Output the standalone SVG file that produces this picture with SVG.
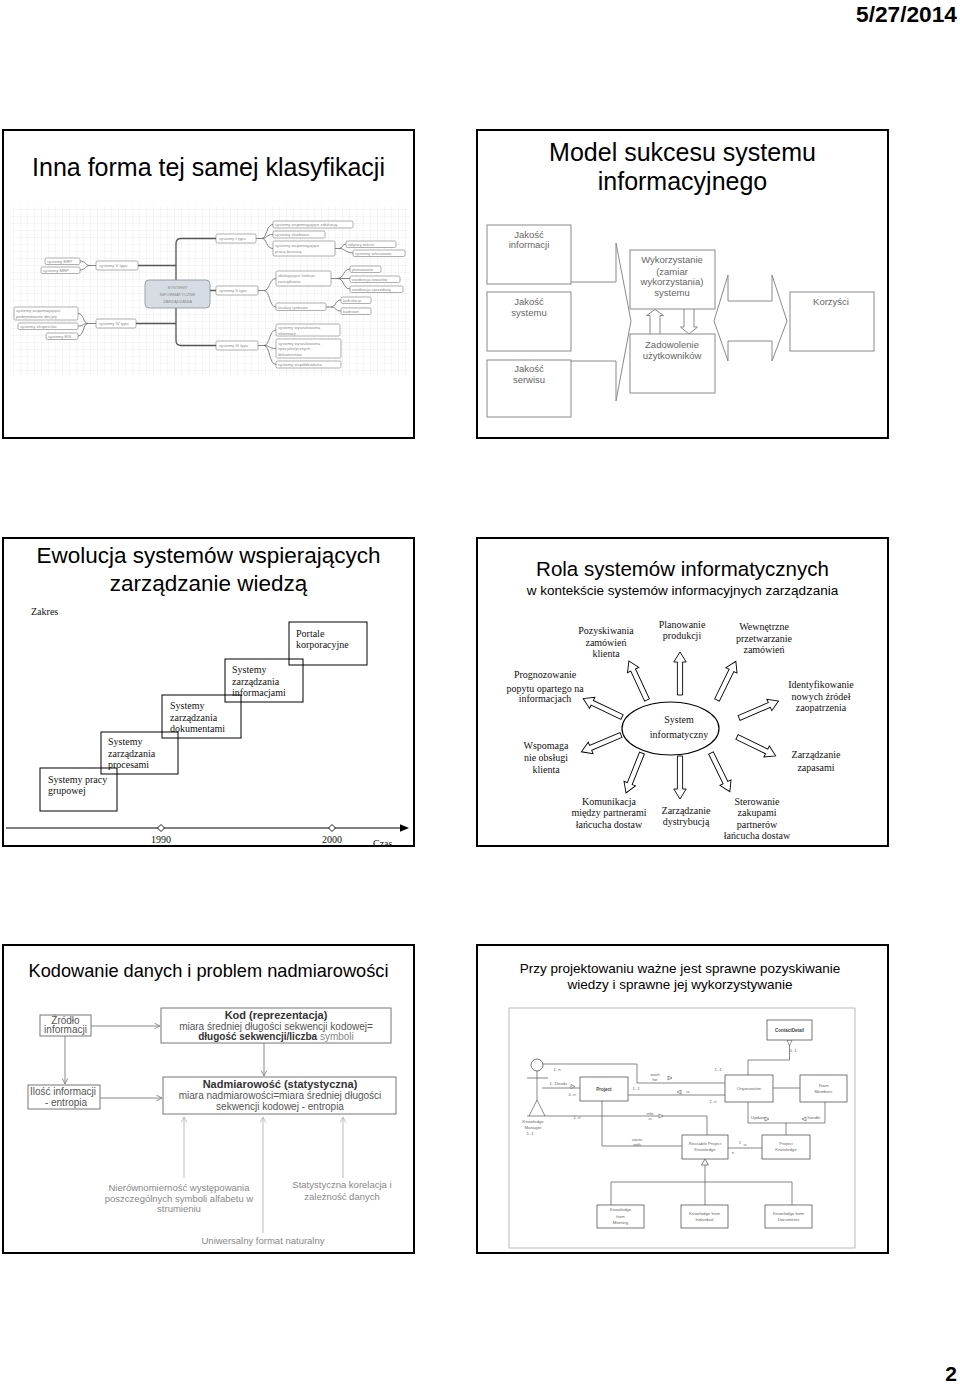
<svg xmlns="http://www.w3.org/2000/svg" width="960" height="1384" viewBox="0 0 960 1384">
<defs>
<style>
.frame{fill:#fff;stroke:#000;stroke-width:2}
.sans{font-family:"Liberation Sans",Arial,sans-serif}
.serif{font-family:"Liberation Serif","Times New Roman",serif}
.ttl{font-family:"Liberation Sans",Arial,sans-serif;fill:#000;text-anchor:middle}
.mm{fill:#fff;stroke:#7a7a7a;stroke-width:0.6}
.mmt{font-family:"Liberation Sans",Arial,sans-serif;font-size:4.2px;fill:#8a8a8a}
.mml{fill:none;stroke:#666;stroke-width:0.8}
.mml1{fill:none;stroke:#555;stroke-width:1.3}
.s2{fill:#fff;stroke:#8a8a8a;stroke-width:1}
.s2l{fill:none;stroke:#8a8a8a;stroke-width:1}
.s2t{font-family:"Liberation Sans",Arial,sans-serif;font-size:9.5px;fill:#666;text-anchor:middle}
.s3b{fill:none;stroke:#000;stroke-width:1}
.s3t{font-family:"Liberation Serif","Times New Roman",serif;font-size:10px;fill:#111}
.s4t{font-family:"Liberation Serif","Times New Roman",serif;font-size:10px;fill:#111;text-anchor:middle}
.s4a{fill:#fff;stroke:#000;stroke-width:0.9}
.s5b{fill:#fff;stroke:#777;stroke-width:1}
.s5l{fill:none;stroke:#888;stroke-width:1}
.s5lb{fill:none;stroke:#bbb;stroke-width:1}
.s5t{font-family:"Liberation Sans",Arial,sans-serif;font-size:10px;fill:#555;text-anchor:middle}
.s5h{font-family:"Liberation Sans",Arial,sans-serif;font-size:11px;font-weight:bold;fill:#333;text-anchor:middle}
.s5s{font-family:"Liberation Sans",Arial,sans-serif;font-size:9.5px;fill:#888;text-anchor:middle}
.u{fill:#fff;stroke:#555;stroke-width:0.8}
.ul{fill:none;stroke:#555;stroke-width:0.7}
.ut{font-family:"Liberation Sans",Arial,sans-serif;font-size:4.3px;fill:#666;text-anchor:middle}
.ub{font-family:"Liberation Sans",Arial,sans-serif;font-size:4.5px;font-weight:bold;fill:#444;text-anchor:middle}
</style>
<pattern id="grid" width="7" height="7" patternUnits="userSpaceOnUse"><path d="M7,0 V7 H0" fill="none" stroke="#e3e3e3" stroke-width="0.6"/></pattern>
<marker id="oa" viewBox="0 0 10 10" refX="9" refY="5" markerWidth="7" markerHeight="7" orient="auto"><path d="M1,1 L9,5 L1,9" fill="none" stroke="#888" stroke-width="1.3"/></marker>
<marker id="ob" viewBox="0 0 10 10" refX="9" refY="5" markerWidth="7" markerHeight="7" orient="auto"><path d="M1,1 L9,5 L1,9" fill="none" stroke="#bbb" stroke-width="1.3"/></marker>
<path id="arw" d="M0,-2.6 H33 V-6.2 L43,0 L33,6.2 V2.6 H0 Z"/>
</defs>
<rect x="0" y="0" width="960" height="1384" fill="#fff"/>

<text class="sans" x="957" y="22" font-size="22" font-weight="bold" text-anchor="end" textLength="101" lengthAdjust="spacingAndGlyphs">5/27/2014</text>

<!-- Slide 1 -->
<g id="slide1">
<rect class="frame" x="3" y="130" width="411" height="308"/>
<text class="ttl" x="208.5" y="176" font-size="25">Inna forma tej samej klasyfikacji</text>
<rect x="10" y="206" width="400" height="170" fill="url(#grid)"/>
<g id="s1-connectors">
<path class="mml1" d="M216,238.5 H181 Q176,238.5 176,243.5 V340.5 Q176,345.5 181,345.5 H216 M176,290.5 H216 M138,265.5 H176 M136,323.5 H176"/>
<path class="mml" d="M256,238.5 H262 C267,238.5 266,224.5 273,224.5 M262,238.5 C267,238.5 266,234.5 273,234.5 M262,238.5 C267,238.5 266,248.5 273,248.5"/>
<path class="mml" d="M335,248.5 H339 C343,248.5 342,244 346,244 M339,248.5 C345,248.5 346,253 353,253"/>
<path class="mml" d="M258,290.5 H264 C270,290.5 269,278.5 276,278.5 M264,290.5 C270,290.5 269,307 276,307"/>
<path class="mml" d="M331,278.5 H338 C344,278.5 343,269 350,269 M338,278.5 H350 M338,278.5 C344,278.5 343,289 350,289"/>
<path class="mml" d="M326,307 H331 C336,307 335,300 341,300 M331,307 C336,307 335,311 341,311"/>
<path class="mml" d="M258,345.5 H264 C270,345.5 269,330 276,330 M264,345.5 C270,345.5 269,348.5 276,348.5 M264,345.5 C270,345.5 269,364.5 276,364.5"/>
<path class="mml" d="M96,265.5 H90 C85,265.5 86,261 80,261 M90,265.5 C85,265.5 86,270 80,270"/>
<path class="mml" d="M96,323.5 H88 C83,323.5 84,313.5 78,313.5 M88,323.5 C83,323.5 84,326 78,326 M88,323.5 C83,323.5 84,336 78,336"/>
</g>
<g id="mm-center"><rect x="145" y="280" width="65" height="28" rx="4" fill="#d6dce3" stroke="#8a9099" stroke-width="0.8"/>
<text class="mmt" x="177.5" y="289" font-size="5" text-anchor="middle">SYSTEMY</text>
<text class="mmt" x="177.5" y="296" font-size="5" text-anchor="middle">INFORMATYCZNE</text>
<text class="mmt" x="177.5" y="303" font-size="5" text-anchor="middle">ZARZĄDZANIA</text></g>
<g id="mm-t1"><rect class="mm" x="216" y="234" width="40" height="9" rx="1.5"/><text class="mmt" x="219" y="240">systemy I typu</text></g>
<g id="mm-t2"><rect class="mm" x="216" y="286" width="42" height="9" rx="1.5"/><text class="mmt" x="219" y="292">systemy II typu</text></g>
<g id="mm-t3"><rect class="mm" x="216" y="341" width="42" height="9" rx="1.5"/><text class="mmt" x="219" y="347">systemy III typu</text></g>
<g id="mm-t5"><rect class="mm" x="96" y="261" width="42" height="9" rx="1.5"/><text class="mmt" x="99" y="267">systemy V typu</text></g>
<g id="mm-t4"><rect class="mm" x="96" y="319" width="40" height="9" rx="1.5"/><text class="mmt" x="99" y="325">systemy IV typu</text></g>
<g id="mm-c1a"><rect class="mm" x="273" y="221" width="80" height="7" rx="1.5"/><text class="mmt" x="275" y="226">systemy wspomagające edukację</text></g>
<g id="mm-c1b"><rect class="mm" x="273" y="231" width="52" height="7" rx="1.5"/><text class="mmt" x="275" y="236">systemy służbowe</text></g>
<g id="mm-c1c"><rect class="mm" x="273" y="241" width="62" height="15" rx="1.5"/><text class="mmt" x="275" y="246.5">systemy wspomagające</text><text class="mmt" x="275" y="252.5">pracę biurową</text></g>
<g id="mm-g1"><rect class="mm" x="346" y="241" width="50" height="6.5" rx="1.5"/><text class="mmt" x="348" y="245.5">edytory tekstu</text></g>
<g id="mm-g2"><rect class="mm" x="353" y="250" width="52" height="6.5" rx="1.5"/><text class="mmt" x="355" y="254.5">systemy arkuszowe</text></g>
<g id="mm-c2a"><rect class="mm" x="276" y="271" width="55" height="15" rx="1.5"/><text class="mmt" x="278" y="276.5">obsługujące funkcje</text><text class="mmt" x="278" y="282.5">zarządzania</text></g>
<g id="mm-c2b"><rect class="mm" x="276" y="303" width="50" height="7.5" rx="1.5"/><text class="mmt" x="278" y="308.5">analizy rynkowe</text></g>
<g id="mm-g3"><rect class="mm" x="350" y="266" width="31" height="6.5" rx="1.5"/><text class="mmt" x="352" y="270.5">planowanie</text></g>
<g id="mm-g4"><rect class="mm" x="350" y="276" width="50" height="6.5" rx="1.5"/><text class="mmt" x="352" y="280.5">ewidencja towarów</text></g>
<g id="mm-g5"><rect class="mm" x="350" y="286" width="53" height="6.5" rx="1.5"/><text class="mmt" x="352" y="290.5">ewidencja sprzedaży</text></g>
<g id="mm-g6"><rect class="mm" x="341" y="297" width="30" height="6.5" rx="1.5"/><text class="mmt" x="343" y="301.5">kalkulacje</text></g>
<g id="mm-g7"><rect class="mm" x="341" y="308" width="30" height="6.5" rx="1.5"/><text class="mmt" x="343" y="312.5">kadrowe</text></g>
<g id="mm-c3a"><rect class="mm" x="276" y="324" width="64" height="12" rx="1.5"/><text class="mmt" x="278" y="329">systemy wyszukiwania</text><text class="mmt" x="278" y="334.5">informacji</text></g>
<g id="mm-c3b"><rect class="mm" x="276" y="339" width="65" height="19" rx="1.5"/><text class="mmt" x="278" y="344.5">systemy wyszukiwania</text><text class="mmt" x="278" y="350">specjalistycznych</text><text class="mmt" x="278" y="355.5">dokumentów</text></g>
<g id="mm-c3c"><rect class="mm" x="276" y="361" width="65" height="7" rx="1.5"/><text class="mmt" x="278" y="366">systemy współdziałania</text></g>
<g id="mm-erp"><rect class="mm" x="45" y="258" width="35" height="6.5" rx="1.5"/><text class="mmt" x="47" y="262.5">systemy ERP</text></g>
<g id="mm-mrp"><rect class="mm" x="41" y="267" width="39" height="6.5" rx="1.5"/><text class="mmt" x="43" y="271.5">systemy MRP</text></g>
<g id="mm-dss"><rect class="mm" x="14" y="307" width="64" height="13" rx="1.5"/><text class="mmt" x="16" y="312">systemy wspomagające</text><text class="mmt" x="16" y="318">podejmowanie decyzji</text></g>
<g id="mm-es"><rect class="mm" x="18" y="323" width="60" height="6.5" rx="1.5"/><text class="mmt" x="20" y="327.5">systemy eksperckie</text></g>
<g id="mm-eis"><rect class="mm" x="46" y="333" width="32" height="6.5" rx="1.5"/><text class="mmt" x="48" y="337.5">systemy EIS</text></g>
</g>

<!-- Slide 2 -->
<g id="slide2">
<rect class="frame" x="477" y="130" width="411" height="308"/>
<text class="ttl" x="682.5" y="161" font-size="25">Model sukcesu systemu</text>
<text class="ttl" x="682.5" y="190" font-size="25">informacyjnego</text>
<g id="s2-connectors">
<path class="s2l" d="M571,282 H616 V243 L631,321 L616,401 V361 H571"/>
<path class="s2l" d="M650,334 V315.5 H646.5 L655,309.5 L663.5,315.5 H660 V334"/>
<path class="s2l" d="M684,309 V327 H680.5 L689,334 L697.5,327 H694 V309"/>
<path class="s2l" d="M714,321 L728,275 V301 H772 V275 L787,321 L772,361 V341 H728 V361 Z"/>
</g>
<g id="jakosc-inf"><rect class="s2" x="487" y="225" width="84" height="59"/><text class="s2t" x="529" y="237.5">Jakość</text><text class="s2t" x="529" y="248">informacji</text></g>
<g id="jakosc-sys"><rect class="s2" x="487" y="292" width="84" height="59"/><text class="s2t" x="529" y="305">Jakość</text><text class="s2t" x="529" y="315.5">systemu</text></g>
<g id="jakosc-ser"><rect class="s2" x="487" y="360" width="84" height="57"/><text class="s2t" x="529" y="372">Jakość</text><text class="s2t" x="529" y="382.5">serwisu</text></g>
<g id="wykorzystanie"><rect class="s2" x="630" y="250" width="85" height="59"/><text class="s2t" x="672" y="263">Wykorzystanie</text><text class="s2t" x="672" y="274.5">(zamiar</text><text class="s2t" x="672" y="285">wykorzystania)</text><text class="s2t" x="672" y="295.5">systemu</text></g>
<g id="zadowolenie"><rect class="s2" x="630" y="334" width="85" height="59"/><text class="s2t" x="672" y="348">Zadowolenie</text><text class="s2t" x="672" y="359">użytkowników</text></g>
<g id="korzysci"><rect class="s2" x="790" y="292" width="84" height="59"/><text class="s2t" x="831" y="305">Korzyści</text></g>
</g>

<!-- Slide 3 -->
<g id="slide3">
<rect class="frame" x="3" y="538" width="411" height="308"/>
<text class="ttl" x="208.5" y="563" font-size="22.5">Ewolucja systemów wspierających</text>
<text class="ttl" x="208.5" y="591" font-size="22.5">zarządzanie wiedzą</text>
<text class="s3t" x="31" y="615">Zakres</text>
<g id="s3-connectors">
<path d="M6,828 H401" stroke="#000" stroke-width="1.2" fill="none"/>
<polygon points="400,824.3 409,828 400,831.7" fill="#000"/>
<polygon points="161,824.5 164.5,828 161,831.5 157.5,828" fill="#fff" stroke="#000" stroke-width="0.9"/>
<polygon points="332,824.5 335.5,828 332,831.5 328.5,828" fill="#fff" stroke="#000" stroke-width="0.9"/>
</g>
<text class="s3t" x="161" y="843" text-anchor="middle">1990</text>
<text class="s3t" x="332" y="843" text-anchor="middle">2000</text>
<text class="s3t" x="373" y="847">Czas</text>
<g id="box-portale"><rect class="s3b" x="289" y="622" width="78" height="43"/><text class="s3t" x="296" y="637">Portale</text><text class="s3t" x="296" y="648">korporacyjne</text></g>
<g id="box-informacje"><rect class="s3b" x="225" y="659" width="78" height="43"/><text class="s3t" x="232" y="673">Systemy</text><text class="s3t" x="232" y="684.5">zarządzania</text><text class="s3t" x="232" y="695.5">informacjami</text></g>
<g id="box-dokumenty"><rect class="s3b" x="162" y="695" width="79" height="43"/><text class="s3t" x="170" y="709">Systemy</text><text class="s3t" x="170" y="720.5">zarządzania</text><text class="s3t" x="170" y="732">dokumentami</text></g>
<g id="box-procesy"><rect class="s3b" x="101" y="732" width="77" height="42"/><text class="s3t" x="108" y="745">Systemy</text><text class="s3t" x="108" y="756.5">zarządzania</text><text class="s3t" x="108" y="768">procesami</text></g>
<g id="box-grupowe"><rect class="s3b" x="40" y="768" width="77" height="43"/><text class="s3t" x="48" y="782.5">Systemy pracy</text><text class="s3t" x="48" y="794">grupowej</text></g>
</g>

<!-- Slide 4 -->
<g id="slide4">
<rect class="frame" x="477" y="538" width="411" height="308"/>
<text class="ttl" x="682.5" y="576" font-size="20.5">Rola systemów informatycznych</text>
<text class="ttl" x="682.5" y="595" font-size="13.5">w kontekście systemów informacyjnych zarządzania</text>
<g id="s4-connectors">
<use href="#arw" class="s4a" transform="translate(680,695) rotate(-90)"/>
<use href="#arw" class="s4a" transform="translate(647,700) rotate(-114.9)"/>
<use href="#arw" class="s4a" transform="translate(717,700) rotate(-64)"/>
<use href="#arw" class="s4a" transform="translate(622,717) rotate(-154.6)"/>
<use href="#arw" class="s4a" transform="translate(739,718) rotate(-23.2)"/>
<use href="#arw" class="s4a" transform="translate(621,735) rotate(157)"/>
<use href="#arw" class="s4a" transform="translate(737,737) rotate(26)"/>
<use href="#arw" class="s4a" transform="translate(642,753) rotate(111.8)"/>
<use href="#arw" class="s4a" transform="translate(680,756) rotate(90)"/>
<use href="#arw" class="s4a" transform="translate(711,753) rotate(64)"/>
</g>
<g id="system-inf"><ellipse cx="670.5" cy="728.5" rx="48.5" ry="26.5" fill="#fff" stroke="#000" stroke-width="1.2"/>
<text class="s4t" x="679" y="722.5" font-size="12">System</text><text class="s4t" x="679" y="737.5" font-size="12">informatyczny</text></g>
<g id="l-pozysk"><text class="s4t" x="606" y="633.5">Pozyskiwania</text><text class="s4t" x="606" y="645.5">zamówień</text><text class="s4t" x="606" y="656.5">klienta</text></g>
<g id="l-plan"><text class="s4t" x="682" y="627.5">Planowanie</text><text class="s4t" x="682" y="638.5">produkcji</text></g>
<g id="l-wewn"><text class="s4t" x="764" y="630">Wewnętrzne</text><text class="s4t" x="764" y="641.5">przetwarzanie</text><text class="s4t" x="764" y="653">zamówień</text></g>
<g id="l-progn"><text class="s4t" x="545" y="678">Prognozowanie</text><text class="s4t" x="545" y="691.5">popytu opartego na</text><text class="s4t" x="545" y="702">informacjach</text></g>
<g id="l-ident"><text class="s4t" x="821" y="688">Identyfikowanie</text><text class="s4t" x="821" y="700">nowych źródeł</text><text class="s4t" x="821" y="711">zaopatrzenia</text></g>
<g id="l-wspom"><text class="s4t" x="546" y="749">Wspomaga</text><text class="s4t" x="546" y="761">nie obsługi</text><text class="s4t" x="546" y="773">klienta</text></g>
<g id="l-zapasy"><text class="s4t" x="816" y="758">Zarządzanie</text><text class="s4t" x="816" y="770.5">zapasami</text></g>
<g id="l-komun"><text class="s4t" x="609" y="805">Komunikacja</text><text class="s4t" x="609" y="816">między partnerami</text><text class="s4t" x="609" y="827.5">łańcucha dostaw</text></g>
<g id="l-dystr"><text class="s4t" x="686" y="814">Zarządzanie</text><text class="s4t" x="686" y="825">dystrybucją</text></g>
<g id="l-sterow"><text class="s4t" x="757" y="805">Sterowanie</text><text class="s4t" x="757" y="815.5">zakupami</text><text class="s4t" x="757" y="827.5">partnerów</text><text class="s4t" x="757" y="839">łańcucha dostaw</text></g>
</g>

<!-- Slide 5 -->
<g id="slide5">
<rect class="frame" x="3" y="945" width="411" height="308"/>
<text class="ttl" x="208.5" y="977" font-size="18.2">Kodowanie danych i problem nadmiarowości</text>
<g id="s5-connectors">
<path class="s5l" d="M91,1026 H160" marker-end="url(#oa)"/>
<path class="s5l" d="M65,1036 V1084" marker-end="url(#oa)"/>
<path class="s5l" d="M100,1098 H162" marker-end="url(#oa)"/>
<path class="s5l" d="M264,1043 V1076" marker-end="url(#oa)"/>
<path class="s5lb" d="M184,1178 V1117" marker-end="url(#ob)"/>
<path class="s5lb" d="M263,1233 V1117" marker-end="url(#ob)"/>
<path class="s5lb" d="M343,1178 V1117" marker-end="url(#ob)"/>
</g>
<g id="zrodlo"><rect class="s5b" x="40" y="1015" width="51" height="21"/><text class="s5t" x="65.5" y="1024" font-size="9">Źródło</text><text class="s5t" x="65.5" y="1033" font-size="9">informacji</text></g>
<g id="ilosc"><rect class="s5b" x="28" y="1085" width="72" height="24"/><text class="s5t" x="63" y="1095">Ilość informacji</text><text class="s5t" x="66" y="1105.5">- entropia</text></g>
<g id="kod"><rect class="s5b" x="161" y="1008" width="230" height="35"/><text class="s5h" x="276" y="1018.5">Kod (reprezentacja)</text><text class="s5t" x="276" y="1029.5">miara średniej długości sekwencji kodowej=</text><text class="s5t" x="276" y="1039.5"><tspan fill="#333" font-weight="bold">długość sekwencji/liczba</tspan> <tspan fill="#888">symboli</tspan></text></g>
<g id="nadmiar"><rect class="s5b" x="163" y="1077" width="233" height="37"/><text class="s5h" x="280" y="1087.5">Nadmiarowość (statystyczna)</text><text class="s5t" x="280" y="1099">miara nadmiarowości=miara średniej długości</text><text class="s5t" x="280" y="1110" fill="#888">sekwencji kodowej - entropia</text></g>
<g id="l-nierown"><text class="s5s" x="179" y="1191" fill="#444">Nierównomierność występowania</text><text class="s5s" x="179" y="1201.5">poszczególnych symboli alfabetu w</text><text class="s5s" x="179" y="1212">strumieniu</text></g>
<g id="l-korel"><text class="s5s" x="342" y="1188">Statystyczna korelacja i</text><text class="s5s" x="342" y="1200" fill="#555">zależność danych</text></g>
<g id="l-uniw"><text class="s5s" x="263" y="1244" font-size="9">Uniwersalny format naturalny</text></g>
</g>

<!-- Slide 6 -->
<g id="slide6">
<rect class="frame" x="477" y="945" width="411" height="308"/>
<text class="ttl" x="680" y="973" font-size="13.5">Przy projektowaniu ważne jest sprawne pozyskiwanie</text>
<text class="ttl" x="680" y="989" font-size="13.5">wiedzy i sprawne jej wykorzystywanie</text>
<rect x="509" y="1008" width="346" height="240" fill="#fff" stroke="#bbb" stroke-width="1"/>
<g id="s6-connectors">
<path class="ul" d="M542,1064 H637 V1083 H725"/>
<path class="ul" d="M542,1088 H580"/>
<path class="ul" d="M628,1095 H725"/>
<path class="ul" d="M748,1075 V1060 H789.5 V1040"/>
<path class="ul" d="M773,1088 H800"/>
<path class="ul" d="M527,1116 H707 V1135"/>
<path class="ul" d="M602,1101 V1146 H682"/>
<path class="ul" d="M728,1148 H762"/>
<path class="ul" d="M748,1102 V1123 H825 V1102 M786,1123 V1135"/>
<path class="ul" d="M705,1165 V1182 M611,1182 H792 M611,1182 V1205 M705,1182 V1205 M792,1182 V1205"/>
<polygon points="705,1159 701.5,1165 708.5,1165" fill="#fff" stroke="#555" stroke-width="0.7"/>
<polygon points="787,1040 792,1040 789.5,1046" fill="#fff" stroke="#555" stroke-width="0.6"/>
<polygon points="668,1076 672,1078 668,1080" fill="#fff" stroke="#555" stroke-width="0.6"/>
<polygon points="571,1084.5 575,1086.5 571,1088.5" fill="#fff" stroke="#555" stroke-width="0.6"/>
<polygon points="659,1114 663,1116 659,1118" fill="#fff" stroke="#555" stroke-width="0.6"/>
<polygon points="681,1090 677,1092 681,1094" fill="#fff" stroke="#555" stroke-width="0.6"/>
<polygon points="765,1117 769,1119 765,1121" fill="#fff" stroke="#555" stroke-width="0.6"/>
<polygon points="806,1117 802,1119 806,1121" fill="#fff" stroke="#555" stroke-width="0.6"/>
</g>
<g id="actor"><circle cx="537" cy="1065" r="6" fill="#fff" stroke="#555" stroke-width="0.8"/><path class="ul" d="M537,1071 V1100 M527,1078 H548 M537,1100 L529,1116 M537,1100 L545,1116"/>
<text class="ut" x="533" y="1123">Knowledge</text><text class="ut" x="533" y="1128.5">Manager</text><text class="ut" x="530" y="1135">1..1</text></g>
<g id="uml-labels">
<text class="ut" x="557" y="1071">1..n</text><text class="ut" x="553" y="1085">1..1</text><text class="ut" x="562" y="1085">leads</text><text class="ut" x="572" y="1096">0..n</text>
<text class="ut" x="655" y="1076">work</text><text class="ut" x="655" y="1080.5">for</text><text class="ut" x="718" y="1071">1..1</text><text class="ut" x="636" y="1090">1..1</text>
<text class="ut" x="688" y="1093">is</text><text class="ut" x="713" y="1102.5">1..n</text>
<text class="ut" x="577" y="1119">1..n</text><text class="ut" x="650" y="1115">info</text><text class="ut" x="650" y="1120">is</text>
<text class="ut" x="637" y="1141">starts</text><text class="ut" x="637" y="1146">with</text>
<text class="ut" x="740" y="1144">1</text><text class="ut" x="745" y="1146">is</text><text class="ut" x="733" y="1154">n</text>
<text class="ut" x="758" y="1119">Update</text><text class="ut" x="814" y="1119">handle</text><text class="ut" x="793" y="1052">0..1</text>
</g>
<g id="u-project"><rect class="u" x="580" y="1077" width="48" height="24"/><text class="ub" x="604" y="1090.5">Project</text></g>
<g id="u-org"><rect class="u" x="725" y="1075" width="48" height="27"/><text class="ut" x="749" y="1090">Organization</text></g>
<g id="u-team"><rect class="u" x="800" y="1075" width="47" height="27"/><text class="ut" x="823.5" y="1087">Team</text><text class="ut" x="823.5" y="1093">Members</text></g>
<g id="u-contact"><rect class="u" x="767" y="1020" width="45" height="20"/><text class="ub" x="789.5" y="1031.5">ContactDetail</text></g>
<g id="u-reusable"><rect class="u" x="682" y="1135" width="46" height="24"/><text class="ut" x="705" y="1145">Reusable Project</text><text class="ut" x="705" y="1151">Knowledge</text></g>
<g id="u-pknow"><rect class="u" x="762" y="1135" width="48" height="24"/><text class="ut" x="786" y="1145">Project</text><text class="ut" x="786" y="1151">Knowledge</text></g>
<g id="u-meeting"><rect class="u" x="597" y="1205" width="47" height="23"/><text class="ut" x="620.5" y="1211">Knowledge</text><text class="ut" x="620.5" y="1217.5">from</text><text class="ut" x="620.5" y="1224">Meeting</text></g>
<g id="u-indiv"><rect class="u" x="681" y="1205" width="47" height="23"/><text class="ut" x="704.5" y="1214.5">Knowledge from</text><text class="ut" x="704.5" y="1221">Individual</text></g>
<g id="u-docs"><rect class="u" x="765" y="1205" width="47" height="23"/><text class="ut" x="788.5" y="1214.5">Knowledge from</text><text class="ut" x="788.5" y="1221">Documents</text></g>
</g>

<text class="sans" x="957" y="1381" font-size="21" font-weight="bold" text-anchor="end">2</text>
</svg>
